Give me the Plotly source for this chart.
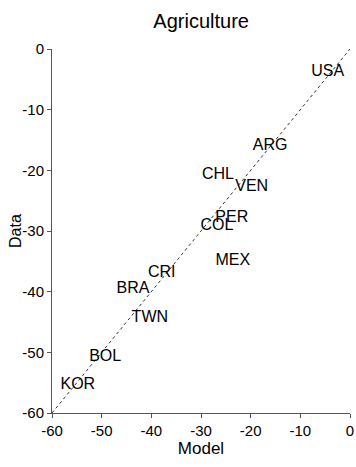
import plotly.graph_objects as go

countries = ["USA", "ARG", "CHL", "VEN", "PER", "COL", "MEX", "CRI", "BRA", "TWN", "BOL", "KOR"]
model = [-4.5, -16.1, -26.6, -19.8, -23.8, -26.8, -23.6, -37.9, -43.7, -40.3, -49.3, -54.8]
data = [-3.8, -16.0, -20.8, -22.7, -27.8, -29.2, -34.9, -36.9, -39.5, -44.3, -50.7, -55.4]
ticks = [-60, -50, -40, -30, -20, -10, 0]
diag = [-60, 0]

NARROW = "Liberation Sans Narrow, Arial Narrow, Liberation Sans, Arial, sans-serif"

fig = go.Figure()
fig.add_trace(go.Scatter(x=diag, y=diag, mode="lines",
                         line=dict(color="black", width=0.8, dash="dot"),
                         hoverinfo="skip", showlegend=False))
fig.add_trace(go.Scatter(x=model, y=data, mode="text", text=countries,
                         textposition="middle center",
                         textfont=dict(family=NARROW, size=16, color="black"),
                         cliponaxis=False, showlegend=False))

fig.update_layout(
    width=356, height=467,
    margin=dict(l=52, r=6, t=49, b=54, autoexpand=False),
    paper_bgcolor="white", plot_bgcolor="white",
    title=dict(text="Agriculture", x=0.565, xanchor="center", y=0.955, yanchor="middle",
               font=dict(family=NARROW, size=20, color="black")),
    annotations=[dict(text="Data", textangle=-90, xref="paper", yref="paper",
                      x=0, y=0.5, xanchor="center", yanchor="middle", xshift=-37,
                      showarrow=False,
                      font=dict(family="Liberation Sans, Arial, sans-serif", size=16, color="black"))],
)
axis_common = dict(
    range=[-60, 0], tickvals=ticks, ticktext=[str(t) for t in ticks],
    showgrid=False, zeroline=False, showline=True, linecolor="#555555", linewidth=1,
    ticks="outside", ticklen=4, tickcolor="#555555", tickwidth=1,
    tickfont=dict(family=NARROW, size=15, color="black"),
    automargin=False, ticklabeloverflow="allow",
)
fig.update_xaxes(**axis_common,
                 title=dict(text="Model", standoff=0,
                            font=dict(family=NARROW, size=17, color="black")))
fig.update_yaxes(**axis_common)

fig.write_html("out.html", config={"displayModeBar": False},
               post_script="document.body.style.margin='0';document.body.style.overflow='hidden';")
